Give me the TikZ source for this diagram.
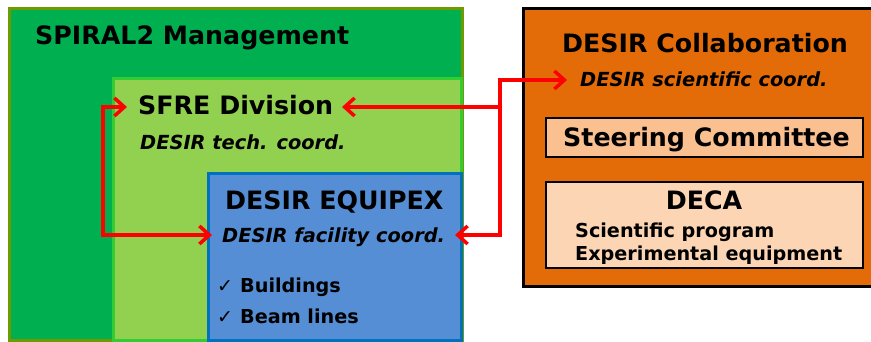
\documentclass[tikz,border=0pt]{standalone}
\usepackage{fontspec}
\setmainfont{DejaVu Sans}
\usetikzlibrary{arrows.meta}
\definecolor{dkgreen}{HTML}{00B050}
\definecolor{olive}{HTML}{6F9A00}
\definecolor{ltgreen}{HTML}{92D050}
\definecolor{brgreen}{HTML}{33CC33}
\definecolor{blfill}{HTML}{558ED5}
\definecolor{bldraw}{HTML}{0070C0}
\definecolor{orfill}{HTML}{E36C09}
\definecolor{stfill}{HTML}{FAC090}
\definecolor{decafill}{HTML}{FCD5B5}
\definecolor{arred}{HTML}{FF0000}
\tikzset{
  box/.style={line width=3pt},
  title/.style={anchor=base west, inner sep=0pt, font=\bfseries\fontsize{25.3}{30}\selectfont},
  sub/.style={anchor=base west, inner sep=0pt, font=\bfseries\itshape\fontsize{19.4}{23}\selectfont},
  item/.style={anchor=base west, inner sep=0pt, font=\bfseries\fontsize{19.2}{23}\selectfont},
  tick/.style={anchor=base west, inner sep=0pt, font=\fontsize{19}{22}\selectfont},
  conn/.style={draw=arred, line width=3.5pt, -{Straight Barb[length=10pt,width=18pt,line width=3.5pt]}},
  conn2/.style={draw=arred, line width=3.5pt, {Straight Barb[length=10pt,width=18pt,line width=3.5pt]}-{Straight Barb[length=10pt,width=18pt,line width=3.5pt]}}
}
\begin{document}
\begin{tikzpicture}[x=1pt,y=-1pt]
\useasboundingbox (0,0) rectangle (871,342);
\fill[white] (0,0) rectangle (871,342);
% boxes
\draw[box, draw=olive, fill=dkgreen] (9,9) rectangle (462,340);
\draw[box, draw=brgreen, fill=ltgreen] (113,79) rectangle (461,340);
\draw[box, draw=bldraw, fill=blfill] (208,174) rectangle (461,340);
\draw[box, draw=black, fill=orfill] (523,9) rectangle (876,286);
\draw[line width=2pt, draw=black, fill=stfill] (546,118) rectangle (863,157);
\draw[line width=2pt, draw=black, fill=decafill] (546,182) rectangle (863,268);
% texts
\node[title] (spiral) at (35,45) {SPIRAL2 Management};
\node[title] (sfre) at (138,115) {SFRE Division};
\node[sub] (tech) at (140,150) {DESIR tech. coord.};
\node[title] (equipex) at (225,210) {DESIR EQUIPEX};
\node[sub] (fac) at (222,243) {DESIR facility coord.};
\node[tick] (tick1) at (217,292) {✓};
\node[item] (bld) at (240,292) {Buildings};
\node[tick] (tick2) at (217,323) {✓};
\node[item] (beam) at (240,323) {Beam lines};
\node[title] (collab) at (562,53) {DESIR Collaboration};
\node[sub] (sci) at (580,87) {DESIR scientific coord.};
\node[title] (steer) at (563,147) {Steering Committee};
\node[title, anchor=base] (deca) at (704,210) {DECA};
\node[item] (prog) at (575,237) {Scientific program};
\node[item] (equip) at (575,261) {Experimental equipment};
% connectors
\coordinate (sfreL) at (127,107);
\coordinate (sfreR) at (342,107);
\coordinate (facL) at (212,235);
\coordinate (facR) at (455,235);
\coordinate (sciL) at (567,80);
\coordinate (jn) at (500,107);
\draw[conn2] (sfreL) -- (103,107) -- (103,235) -- (facL);
\draw[conn] (jn) -- (sfreR);
\draw[conn] (jn) |- (sciL);
\draw[conn] (jn) |- (facR);
\end{tikzpicture}
\end{document}
